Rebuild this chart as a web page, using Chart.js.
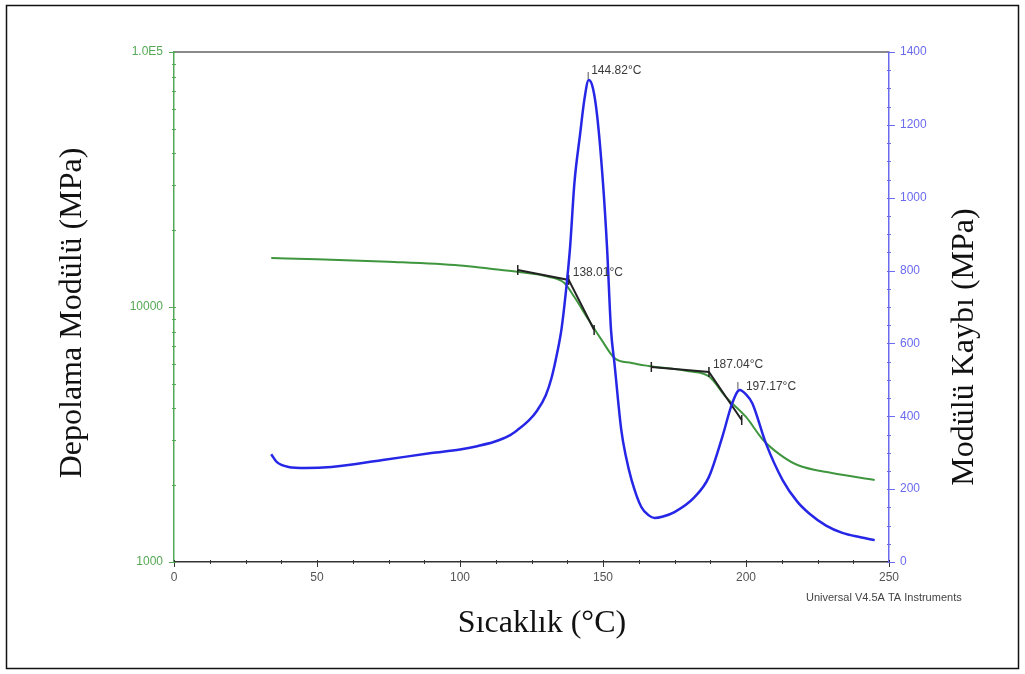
<!DOCTYPE html>
<html lang="tr">
<head>
<meta charset="UTF-8">
<title>DMA - Depolama ve Kayıp Modülü</title>
<script src="https://cdn.jsdelivr.net/npm/chart.js"></script>
<style>
  html, body { margin: 0; padding: 0; background: #fff; }
  #wrap { width: 1025px; height: 674px; }
</style>
</head>
<body>
<div id="wrap"><canvas id="dma" width="1025" height="674"></canvas></div>
<script>
// storage modulus (MPa, log axis)
const storageTemp = [34, 50, 75, 100, 110, 120, 131, 136.5, 140, 145, 149.5, 154, 160, 166, 180, 187, 193, 200, 206, 212, 218, 230, 245];
const storageModulus = [15560, 15400, 15050, 14550, 14150, 13750, 13150, 12420, 10940, 8890, 7430, 6310, 6030, 5870, 5600, 5350, 4433, 3705, 3008, 2630, 2400, 2233, 2098];

// loss modulus (MPa, right axis)
const lossTemp = [34, 36, 40, 46, 55, 73, 90, 100, 106, 112, 117, 120, 124, 127, 130, 132, 134, 135.5, 137, 138.5, 140, 142, 143.5, 145, 146.5, 148, 150, 151.4, 152.8, 154, 156.4, 158, 160, 163.4, 166, 168, 171, 175, 182, 187, 191.7, 195.2, 197.8, 200, 202.2, 206.9, 212.8, 218, 222, 228, 233.7, 240, 245];
const lossModulus = [296, 274, 261, 258, 261, 280, 299, 309, 318, 330, 346, 362, 388, 416, 458, 505, 575, 640, 740, 865, 1040, 1175, 1270, 1323, 1300, 1222, 1040, 865, 637, 546, 362, 290, 225, 151, 128, 121, 125, 137, 178, 233, 343, 436, 472, 460, 436, 327, 225, 165, 134, 100, 80, 68, 60];

// onset tangents on the storage curve
const onset1Temp = [120.2, 138.01, 146.9];
const onset1Modulus = [13960, 12770, 8120];
const onset2Temp = [166.9, 187.04, 198.5];
const onset2Modulus = [5820, 5560, 3605];
const onsetLabels = ['138.01°C', '187.04°C'];

// loss peaks
const peakTemp = [144.82, 197.17];
const peakLoss = [1323, 472];
const peakLabels = ['144.82°C', '197.17°C'];

const xTicks = [0, 50, 100, 150, 200, 250];
const leftTicks = [1000, 10000, 100000];
const leftTickLabels = ['1000', '10000', '1.0E5'];
const rightTicks = [0, 200, 400, 600, 800, 1000, 1200, 1400];

const GREEN = '#3f963f';
const GREEN_AXIS = '#55a855';
const BLUE = '#2626e6';
const BLUE_AXIS = '#6a6aee';
const tickFont = { family: '"Liberation Sans", Arial, sans-serif', size: 12 };
const titleFont = '32px "Liberation Serif", "Times New Roman", serif';

function pts(xs, ys) {
  return xs.map((x, i) => ({ x: x, y: ys[i] }));
}

const extras = {
  id: 'extras',
  afterDraw(chart) {
    const ctx = chart.ctx;
    const a = chart.chartArea;
    const x = chart.scales.x;
    const yS = chart.scales.yStorage;
    const yL = chart.scales.yLoss;
    ctx.save();

    // top border of plot
    ctx.strokeStyle = '#8a8a8a';
    ctx.lineWidth = 2;
    ctx.beginPath();
    ctx.moveTo(a.left, a.top);
    ctx.lineTo(a.right, a.top);
    ctx.stroke();

    // x ticks
    ctx.lineWidth = 1;
    ctx.strokeStyle = '#333';
    for (let v = 0; v <= 250; v += 12.5) {
      const px = Math.round(x.getPixelForValue(v)) + 0.5;
      const major = v % 50 === 0;
      ctx.beginPath();
      ctx.moveTo(px, a.bottom - 2);
      ctx.lineTo(px, a.bottom + (major ? 5 : 2));
      ctx.stroke();
    }

    // log ticks left
    ctx.strokeStyle = GREEN_AXIS;
    [1000, 10000].forEach(dec => {
      for (let m = 1; m <= 9; m++) {
        const py = Math.round(yS.getPixelForValue(m * dec)) + 0.5;
        ctx.beginPath();
        ctx.moveTo(a.left - (m === 1 ? 5 : 2), py);
        ctx.lineTo(a.left + 2, py);
        ctx.stroke();
      }
    });
    const pTop = Math.round(yS.getPixelForValue(100000)) + 0.5;
    ctx.beginPath();
    ctx.moveTo(a.left - 5, pTop);
    ctx.lineTo(a.left + 2, pTop);
    ctx.stroke();

    // right ticks
    ctx.strokeStyle = BLUE_AXIS;
    for (let v = 0; v <= 1400; v += 50) {
      const py = Math.round(yL.getPixelForValue(v)) + 0.5;
      const major = v % 200 === 0;
      ctx.beginPath();
      ctx.moveTo(a.right - 2, py);
      ctx.lineTo(a.right + (major ? 6 : 2), py);
      ctx.stroke();
    }

    // annotations
    ctx.font = '12px "Liberation Sans", Arial, sans-serif';
    ctx.fillStyle = '#3a3a3a';
    ctx.textBaseline = 'middle';
    ctx.textAlign = 'left';
    const onsetPts = [[onset1Temp[1], onset1Modulus[1]], [onset2Temp[1], onset2Modulus[1]]];
    onsetPts.forEach((p, i) => {
      const px = x.getPixelForValue(p[0]);
      const py = yS.getPixelForValue(p[1]);
      ctx.fillText(onsetLabels[i], px + 4, py - 7);
    });
    const peakOff = [[3, -9], [8, -3]];
    ctx.strokeStyle = '#555';
    peakTemp.forEach((t, i) => {
      const px = x.getPixelForValue(t);
      const py = yL.getPixelForValue(peakLoss[i]);
      ctx.beginPath();
      ctx.moveTo(px, py - 8);
      ctx.lineTo(px, py - 1);
      ctx.stroke();
      ctx.fillText(peakLabels[i], px + peakOff[i][0], py + peakOff[i][1]);
    });

    // footer
    ctx.font = '11px "Liberation Sans", Arial, sans-serif';
    ctx.fillStyle = '#444';
    ctx.fillText('Universal V4.5A TA Instruments', 806, 598);

    // axis titles
    ctx.font = titleFont;
    ctx.fillStyle = '#111';
    ctx.textAlign = 'center';
    ctx.fillText('Sıcaklık (°C)', 542, 624);
    ctx.save();
    ctx.translate(73, 313);
    ctx.rotate(-Math.PI / 2);
    ctx.fillText('Depolama Modülü (MPa)', 0, 0);
    ctx.restore();
    ctx.save();
    ctx.translate(965, 347);
    ctx.rotate(-Math.PI / 2);
    ctx.fillText('Modülü Kaybı (MPa)', 0, 0);
    ctx.restore();

    // frame
    ctx.strokeStyle = '#111';
    ctx.lineWidth = 1.5;
    ctx.strokeRect(6.5, 5.5, 1012, 663);
    ctx.restore();
  }
};

new Chart(document.getElementById('dma'), {
  type: 'line',
  data: {
    datasets: [
      {
        label: 'Kayıp Modülü',
        data: pts(lossTemp, lossModulus),
        yAxisID: 'yLoss',
        borderColor: BLUE,
        borderWidth: 2.5,
        pointRadius: 0,
        cubicInterpolationMode: 'monotone'
      },
      {
        label: 'onset1',
        data: pts(onset1Temp, onset1Modulus),
        yAxisID: 'yStorage',
        borderColor: '#222',
        borderWidth: 2,
        pointStyle: 'line',
        rotation: 90,
        pointRadius: 5,
        pointBorderColor: '#222',
        pointBorderWidth: 1.5,
        tension: 0
      },
      {
        label: 'onset2',
        data: pts(onset2Temp, onset2Modulus),
        yAxisID: 'yStorage',
        borderColor: '#222',
        borderWidth: 2,
        pointStyle: 'line',
        rotation: 90,
        pointRadius: 5,
        pointBorderColor: '#222',
        pointBorderWidth: 1.5,
        tension: 0
      },
      {
        label: 'Depolama Modülü',
        data: pts(storageTemp, storageModulus),
        yAxisID: 'yStorage',
        borderColor: GREEN,
        borderWidth: 2,
        pointRadius: 0,
        cubicInterpolationMode: 'monotone'
      }
    ]
  },
  options: {
    responsive: false,
    animation: false,
    layout: { padding: { top: 52, left: 0, right: 0, bottom: 0 } },
    plugins: { legend: { display: false }, tooltip: { enabled: false } },
    scales: {
      x: {
        type: 'linear',
        min: 0,
        max: 250,
        afterBuildTicks: s => { s.ticks = xTicks.map(v => ({ value: v })); },
        afterFit: s => { s.height = 112; },
        ticks: { color: '#555', font: tickFont, padding: 8, maxRotation: 0, autoSkip: false },
        grid: { display: false, drawTicks: false },
        border: { color: '#333', width: 1.5 }
      },
      yStorage: {
        type: 'logarithmic',
        position: 'left',
        min: 1000,
        max: 100000,
        afterBuildTicks: s => { s.ticks = leftTicks.map(v => ({ value: v })); },
        afterFit: s => { s.width = 174; },
        ticks: {
          color: GREEN_AXIS,
          font: tickFont,
          padding: 11,
          autoSkip: false,
          callback: v => leftTickLabels[leftTicks.indexOf(v)]
        },
        grid: { display: false, drawTicks: false },
        border: { color: GREEN_AXIS, width: 1.5 }
      },
      yLoss: {
        type: 'linear',
        position: 'right',
        min: 0,
        max: 1400,
        afterBuildTicks: s => { s.ticks = rightTicks.map(v => ({ value: v })); },
        afterFit: s => { s.width = 136; },
        ticks: { color: BLUE_AXIS, font: tickFont, padding: 11, autoSkip: false, callback: v => String(v) },
        grid: { display: false, drawTicks: false },
        border: { color: BLUE_AXIS, width: 1.5 }
      }
    }
  },
  plugins: [extras]
});
</script>
</body>
</html>
